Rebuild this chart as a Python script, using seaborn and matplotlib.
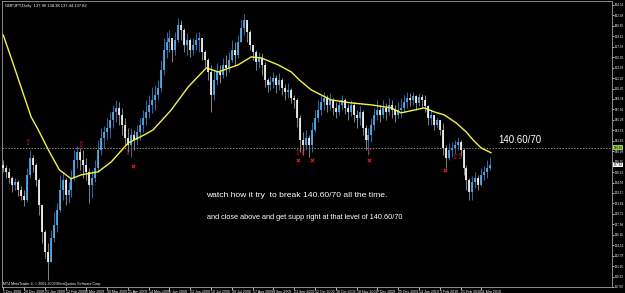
import numpy as np
import pandas as pd
import matplotlib
matplotlib.use("Agg")
import matplotlib.pyplot as plt
import seaborn as sns

# ---------------- data ----------------
date_labels = ["1 Dec 2008", "29 Dec 2008", "21 Jan 2009", "12 Feb 2009", "6 Mar 2009",
               "30 Mar 2009", "21 Apr 2009", "14 May 2009", "5 Jun 2009", "23 Jun 2009",
               "10 Jul 2009", "29 Jul 2009", "17 Aug 2009", "4 Sep 2009", "23 Sep 2009",
               "12 Oct 2009", "30 Oct 2009", "18 Nov 2009", "7 Dec 2009", "25 Dec 2009",
               "14 Jan 2010", "3 Feb 2010", "21 Feb 2010", "11 Mar 2010"]

first_open = 137.83
close = [137.34, 136.67, 135.68, 134.52, 135.02, 133.70, 132.70, 132.04, 136.18, 138.99,
         137.83, 135.35, 131.21, 126.74, 123.43, 121.78, 125.75, 127.90, 130.39, 133.70,
         135.35, 132.87, 133.70, 135.68, 138.66, 139.98, 138.66, 137.83, 136.67, 134.52,
         135.68, 137.34, 140.32, 142.30, 143.29, 143.96, 145.28, 146.60, 147.27, 146.11,
         144.45, 142.30, 141.14, 142.80, 141.97, 143.29, 144.45, 145.61, 146.60, 147.76,
         148.59, 149.42, 150.58, 153.56, 156.87, 158.19, 158.85, 156.87, 158.52, 161.00,
         160.18, 157.69, 158.52, 156.87, 157.69, 158.52, 158.85, 156.53, 155.21, 153.22,
         149.42, 151.90, 153.22, 152.73, 154.38, 153.89, 155.21, 156.87, 156.04, 158.19,
         160.51, 161.83, 159.84, 157.69, 156.53, 154.88, 155.54, 154.38, 151.90, 151.07,
         151.57, 152.23, 151.07, 151.90, 150.58, 149.91, 150.25, 148.92, 148.59, 145.61,
         141.97, 141.14, 142.30, 141.14, 143.63, 145.61, 146.94, 148.26, 148.92, 147.76,
         148.59, 147.27, 146.60, 147.76, 148.59, 147.27, 146.60, 147.76, 146.11, 145.61,
         146.60, 143.96, 141.97, 142.80, 144.45, 146.11, 146.94, 146.11, 147.27, 146.60,
         147.76, 146.94, 146.11, 146.94, 147.27, 148.26, 148.92, 148.59, 149.25, 148.09,
         149.09, 148.59, 147.60, 145.61, 146.11, 144.45, 145.28, 143.63, 140.65, 138.99,
         140.32, 140.65, 141.14, 141.64, 140.32, 137.34, 135.35, 133.36, 135.02, 135.68,
         134.52, 136.18, 136.67, 137.34, 137.83]
high = [138.66, 137.83, 137.34, 136.01, 135.68, 135.35, 134.36, 133.70, 137.34, 140.32,
        139.49, 138.16, 135.68, 131.21, 127.08, 124.92, 127.08, 130.05, 131.54, 136.18,
        136.51, 135.68, 135.02, 137.01, 140.32, 140.98, 140.65, 140.32, 138.99, 137.34,
        137.01, 138.66, 141.97, 143.96, 144.29, 145.61, 146.60, 147.76, 148.59, 148.26,
        147.27, 145.61, 143.96, 143.96, 143.63, 144.45, 145.61, 146.94, 148.59, 149.42,
        150.74, 151.07, 151.90, 155.21, 158.85, 159.84, 160.18, 158.19, 159.84, 162.16,
        161.83, 160.51, 159.68, 158.85, 158.85, 159.68, 159.84, 158.85, 156.87, 155.54,
        154.38, 153.56, 154.71, 154.38, 155.54, 156.04, 156.53, 158.52, 158.19, 159.35,
        161.83, 162.82, 161.50, 160.18, 157.69, 156.87, 156.53, 156.37, 154.88, 152.23,
        152.56, 153.22, 152.73, 153.06, 152.23, 151.24, 151.40, 150.58, 149.42, 148.92,
        146.11, 143.29, 143.63, 142.80, 144.95, 146.94, 148.59, 149.42, 149.91, 149.42,
        149.75, 148.92, 148.26, 148.59, 149.42, 148.92, 147.93, 148.59, 148.26, 146.94,
        147.60, 146.94, 144.45, 143.96, 145.61, 147.27, 148.59, 147.76, 148.59, 148.09,
        148.92, 148.59, 147.76, 148.26, 148.92, 149.42, 149.91, 149.75, 149.91, 149.42,
        149.75, 149.58, 149.42, 147.76, 146.94, 146.11, 145.78, 145.28, 144.78, 141.14,
        141.47, 141.64, 141.97, 142.47, 141.97, 140.65, 137.83, 135.68, 136.01, 136.67,
        136.18, 137.34, 137.67, 138.66, 139.16]
low = [136.67, 135.68, 134.85, 133.36, 133.70, 132.70, 132.04, 131.05, 131.71, 135.68,
       136.67, 134.36, 129.56, 124.92, 122.44, 118.80, 121.78, 125.09, 126.74, 130.05,
       132.04, 131.21, 131.54, 132.54, 135.35, 137.34, 137.01, 135.68, 135.35, 131.54,
       132.37, 135.02, 136.67, 139.49, 140.65, 141.97, 142.30, 143.96, 144.95, 144.45,
       142.80, 141.14, 139.98, 139.16, 140.32, 141.14, 141.97, 143.29, 144.45, 145.61,
       146.44, 146.94, 148.59, 149.91, 152.73, 155.54, 156.53, 154.88, 156.04, 158.19,
       158.52, 156.53, 156.04, 155.71, 156.04, 156.87, 156.53, 155.21, 154.05, 151.90,
       146.60, 148.59, 151.07, 151.40, 152.23, 152.56, 153.22, 154.88, 154.38, 155.54,
       158.19, 159.35, 158.19, 156.87, 155.21, 153.56, 153.89, 152.73, 150.74, 149.91,
       150.25, 150.58, 149.75, 150.25, 149.42, 148.59, 148.92, 148.09, 147.27, 144.12,
       139.98, 139.49, 140.32, 139.16, 139.98, 143.29, 144.95, 146.11, 146.94, 146.60,
       146.94, 146.11, 145.61, 146.11, 146.94, 146.27, 145.28, 145.94, 144.95, 143.96,
       144.45, 142.80, 140.32, 139.49, 141.64, 143.63, 145.28, 144.95, 145.61, 145.28,
       146.11, 145.61, 144.95, 145.61, 145.78, 146.60, 147.27, 147.60, 147.76, 146.94,
       147.60, 147.27, 146.60, 144.45, 144.45, 143.63, 143.96, 142.80, 139.49, 137.34,
       138.66, 139.16, 139.82, 140.32, 139.32, 136.18, 133.70, 132.04, 132.04, 134.03,
       133.70, 134.36, 135.35, 135.68, 137.01]

ma_idx = [0, 2.7, 6.1, 9.4, 11.8, 15.2, 18.9, 22.9, 26.3, 32, 36.4, 42.1, 47.5, 50.5,
          56.6, 62.3, 68.4, 72.4, 79.1, 83.5, 86.9, 92.6, 97, 99.7, 103.7, 110.4, 117.2,
          123.9, 130.6, 134, 141.8, 145.1, 148.5, 152.5, 155.9, 158.2, 160.9, 164.3]
ma_val = [159.35, 155.54, 150.58, 145.78, 143.63, 140.32, 137.01, 135.52, 136.18, 136.68,
          138.33, 141.47, 142.80, 143.63, 146.94, 150.74, 153.89, 153.22, 154.39, 155.71,
          155.54, 154.39, 153.22, 151.90, 150.25, 148.59, 148.09, 147.77, 147.27, 146.44,
          147.27, 146.61, 146.11, 144.79, 143.29, 141.97, 140.65, 139.82]

level = 140.65
level_text = "140.60/70"
arrow_idx = [8.4, 26.3, 42.1, 99.3, 101.0, 123.2, 152.2, 153.9]
arrow_val = [141.47, 141.14, 139.82, 139.82, 139.82, 139.98, 139.16, 139.16]
cross_idx = [43.8, 99.3, 104.0, 123.2, 148.8]
cross_val = [137.67, 138.66, 138.66, 138.66, 137.01]
last_price = 137.82
note1 = "watch how it try  to break 140.60/70 all the time."
note2 = "and close above and get supp right at that level of 140.60/70"
title = "GBPJPY,Daily  137.90 138.38 137.44 137.82"
copyright_text = "MT4 MetaTrader 4, \u00a9 2001-2009 MetaQuotes Software Corp."

# ---------------- drawing ----------------
sns.set_theme(style="dark")
plt.rcParams['font.family'] = ['Liberation Sans', 'DejaVu Sans']

W, H = 625, 293
fig = plt.figure(figsize=(W / 100, H / 100), dpi=100, facecolor='black')
ax = fig.add_axes([2 / W, 6 / H, 610 / W, 286 / H])
ax.set_facecolor('black')

idx = np.arange(len(close))
opens = np.array([first_open] + close[:-1])
closes = np.array(close)
up = closes >= opens

df = pd.DataFrame({"idx": idx, "open": opens, "close": closes,
                   "high": high, "low": low, "up": up})

for is_up, wick_c, body_c in [(True, "#2f7fc8", "#5cb4f0"), (False, "#9a9a9a", "#ffffff")]:
    d = df[df["up"] == is_up]
    ax.vlines(d["idx"], d["low"], d["high"], color=wick_c, lw=0.6, zorder=2)
    ax.vlines(d["idx"], np.minimum(d["open"], d["close"]), np.maximum(d["open"], d["close"]),
              color=body_c, lw=1.2, zorder=3)

sns.lineplot(x=ma_idx, y=ma_val, color="#f2f24a", lw=1.0, ax=ax, zorder=4)

ax.axhline(level, color="#8c8c6e", lw=0.7, ls=(0, (1.5, 1.5)), zorder=1)

for xi, yi in zip(arrow_idx, arrow_val):
    ax.text(xi, yi, "\u21e7", color="#d42020", fontsize=5.5, ha="center", va="center",
            family="DejaVu Sans", zorder=5)
sns.scatterplot(x=cross_idx, y=cross_val, marker="x", color="#d42020", s=6,
                linewidth=0.8, ax=ax, zorder=5)

ax.text(166.7, 141.97, level_text, color="white", fontsize=7, ha="left", va="center")
ax.text(99.0, 132.70, note1, color="white", fontsize=6.1, ha="center", va="center")
ax.text(101.7, 129.06, note2, color="white", fontsize=5.3, ha="center", va="center")

ax.set_xlim(-0.4, 205.0)
ax.set_ylim(117.64, 164.97)

# axes styling
for sp in ax.spines.values():
    sp.set_visible(True)
    sp.set_color("#a0a0a0")
    sp.set_linewidth(0.6)

xt = list(range(0, 7 * len(date_labels), 7))
ax.set_xticks(xt)
ax.set_xticklabels(date_labels)
for lab in ax.get_xticklabels():
    lab.set_horizontalalignment("left")
ax.tick_params(axis="x", colors="white", labelsize=2.6, length=2, width=0.5,
               pad=0.5, direction="out", bottom=True)

yt = np.arange(117.60, 164.6, 1.73)
ax.yaxis.tick_right()
ax.set_yticks(yt)
ax.set_yticklabels([f"{v:.2f}" for v in yt])
ax.tick_params(axis="y", colors="white", labelsize=2.2, length=1.2, width=0.5,
               pad=0.8, direction="out", right=True, left=False)
ax.set_xlabel("")
ax.set_ylabel("")
ax.grid(False)

# price labels on the right scale
ax.text(1.003, level, f"{level:.2f}", transform=ax.get_yaxis_transform(), fontsize=2.2,
        color="black", ha="left", va="center",
        bbox=dict(boxstyle="square,pad=0.12", fc="#8fd14f", ec="none"))
ax.text(1.003, last_price, f"{last_price:.2f}", transform=ax.get_yaxis_transform(),
        fontsize=2.2, color="black", ha="left", va="center",
        bbox=dict(boxstyle="square,pad=0.12", fc="white", ec="none"))

fig.text(5 / W, 1 - 6 / H, title, color="white", fontsize=3, ha="left", va="center")
fig.text(3 / W, 1 - 284 / H, copyright_text, color="white", fontsize=2.6, ha="left",
         va="center")

fig.savefig("out.png", dpi=100, facecolor="black")
